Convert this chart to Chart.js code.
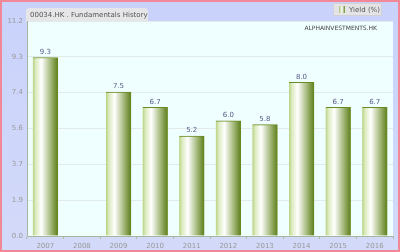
<!DOCTYPE html>
<html>
<head>
<meta charset="utf-8">
<script src="https://cdn.jsdelivr.net/npm/chart.js@4.4.0/dist/chart.umd.min.js"></script>
<style>
  html, body { margin: 0; padding: 0; background: #fff; }
  #wrap { width: 400px; height: 252px; }
</style>
</head>
<body>
<div id="wrap"><canvas id="yieldChart" width="400" height="252"></canvas></div>
<script>
// data
const years = ['2007', '2008', '2009', '2010', '2011', '2012', '2013', '2014', '2015', '2016'];
const yieldValues = [9.3, null, 7.5, 6.7, 5.2, 6.0, 5.8, 8.0, 6.7, 6.7];
const yTickLabels = ['0.0', '1.9', '3.7', '5.6', '7.4', '9.3', '11.2'];
const yMax = 11.2;

const BAR_W = 25;

function barFill(context) {
    const chart = context.chart;
    const x = chart.scales && chart.scales.x;
    if (!chart.chartArea || !x) return '#9cb860';
    const cx = x.getPixelForValue(context.dataIndex);
    const g = chart.ctx.createLinearGradient(cx - BAR_W / 2, 0, cx + BAR_W / 2, 0);
    g.addColorStop(0, '#b8d080');
    g.addColorStop(0.12, '#dcebc0');
    g.addColorStop(0.35, '#ffffff');
    g.addColorStop(0.7, '#a8bc80');
    g.addColorStop(1, '#5e7e1c');
    return g;
}

// background, title tab, legend, watermark, value labels
const decor = {
    id: 'decor',
    beforeDraw(chart) {
        const c = chart.ctx;
        const a = chart.chartArea;
        c.save();
        const bg = c.createLinearGradient(0, 0, 0, 252);
        bg.addColorStop(0, '#c9d2fb');
        bg.addColorStop(1, '#d3daf9');
        c.fillStyle = bg;
        c.fillRect(0, 0, 400, 252);
        c.strokeStyle = '#f08898';
        c.lineWidth = 2;
        c.strokeRect(1, 1, 398, 250);

        c.fillStyle = '#effefe';
        c.fillRect(a.left, a.top, a.right - a.left, a.bottom - a.top);

        // title tab
        c.fillStyle = '#e6e6e8';
        c.beginPath();
        c.moveTo(26, 22);
        c.lineTo(26, 12);
        c.quadraticCurveTo(26, 8, 30, 8);
        c.lineTo(144, 8);
        c.quadraticCurveTo(148, 8, 148, 12);
        c.lineTo(148, 22);
        c.closePath();
        c.fill();
        c.fillStyle = '#555';
        c.font = '7px "DejaVu Sans"';
        c.textBaseline = 'middle';
        c.fillText('00034.HK . Fundamentals History', 30, 15);

        // legend box
        c.fillStyle = '#e4e4e6';
        c.fillRect(333, 3, 49, 13);
        c.strokeStyle = '#d0d0d8';
        c.lineWidth = 1;
        c.strokeRect(333.5, 3.5, 48, 12);
        const lg = c.createLinearGradient(339, 0, 345, 0);
        lg.addColorStop(0, '#a8c070');
        lg.addColorStop(0.5, '#ffffff');
        lg.addColorStop(1, '#6a8a2a');
        c.fillStyle = lg;
        c.fillRect(339, 6, 6, 7);
        c.fillStyle = '#555';
        c.font = '7px "DejaVu Sans"';
        c.fillText('Yield (%)', 349, 10);
        c.restore();
    },
    afterDatasetsDraw(chart) {
        const c = chart.ctx;
        const meta = chart.getDatasetMeta(0);
        c.save();
        c.font = '7px "DejaVu Sans"';
        c.fillStyle = '#5a5a88';
        c.textAlign = 'center';
        c.textBaseline = 'bottom';
        meta.data.forEach((bar, i) => {
            const v = yieldValues[i];
            if (v === null) return;
            c.fillText(v.toFixed(1), bar.x, bar.y - 2);
        });
        c.fillStyle = '#444';
        c.font = '6px "DejaVu Sans"';
        c.textAlign = 'right';
        c.textBaseline = 'middle';
        c.fillText('ALPHAINVESTMENTS.HK', 377, 28);
        c.restore();
    }
};

const ctx = document.getElementById('yieldChart').getContext('2d');
const yieldChart = new Chart(ctx, {
    type: 'bar',
    data: {
        labels: years,
        datasets: [{
            label: 'Yield (%)',
            data: yieldValues,
            backgroundColor: barFill,
            borderColor: '#6a8a20',
            borderWidth: { top: 1, right: 1, left: 0, bottom: 0 },
            borderSkipped: 'bottom',
            barThickness: BAR_W
        }]
    },
    options: {
        responsive: false,
        animation: false,
        devicePixelRatio: 1,
        layout: { padding: { top: 21, right: 7, bottom: 0, left: 0 } },
        plugins: {
            legend: { display: false },
            tooltip: { enabled: false }
        },
        scales: {
            x: {
                grid: {
                    display: true,
                    offset: true,
                    drawOnChartArea: false,
                    tickLength: 3,
                    color: '#b0b8b0'
                },
                border: { display: true, color: '#a8b4a0' },
                ticks: {
                    color: '#999',
                    font: { family: 'DejaVu Sans', size: 7 },
                    padding: 3,
                    maxRotation: 0
                },
                afterFit(scale) { scale.height = 16; }
            },
            y: {
                min: 0,
                max: yMax,
                afterBuildTicks(scale) {
                    scale.ticks = yTickLabels.map((t, i) => ({ value: yMax * i / 6 }));
                },
                grid: {
                    color: '#e2ebea',
                    drawTicks: false
                },
                border: { display: true, color: '#a8b4a0' },
                ticks: {
                    color: '#999',
                    font: { family: 'DejaVu Sans', size: 7 },
                    padding: 4,
                    callback: (v, i) => yTickLabels[i]
                },
                afterFit(scale) { scale.width = 27; }
            }
        }
    },
    plugins: [decor]
});
</script>
</body>
</html>
